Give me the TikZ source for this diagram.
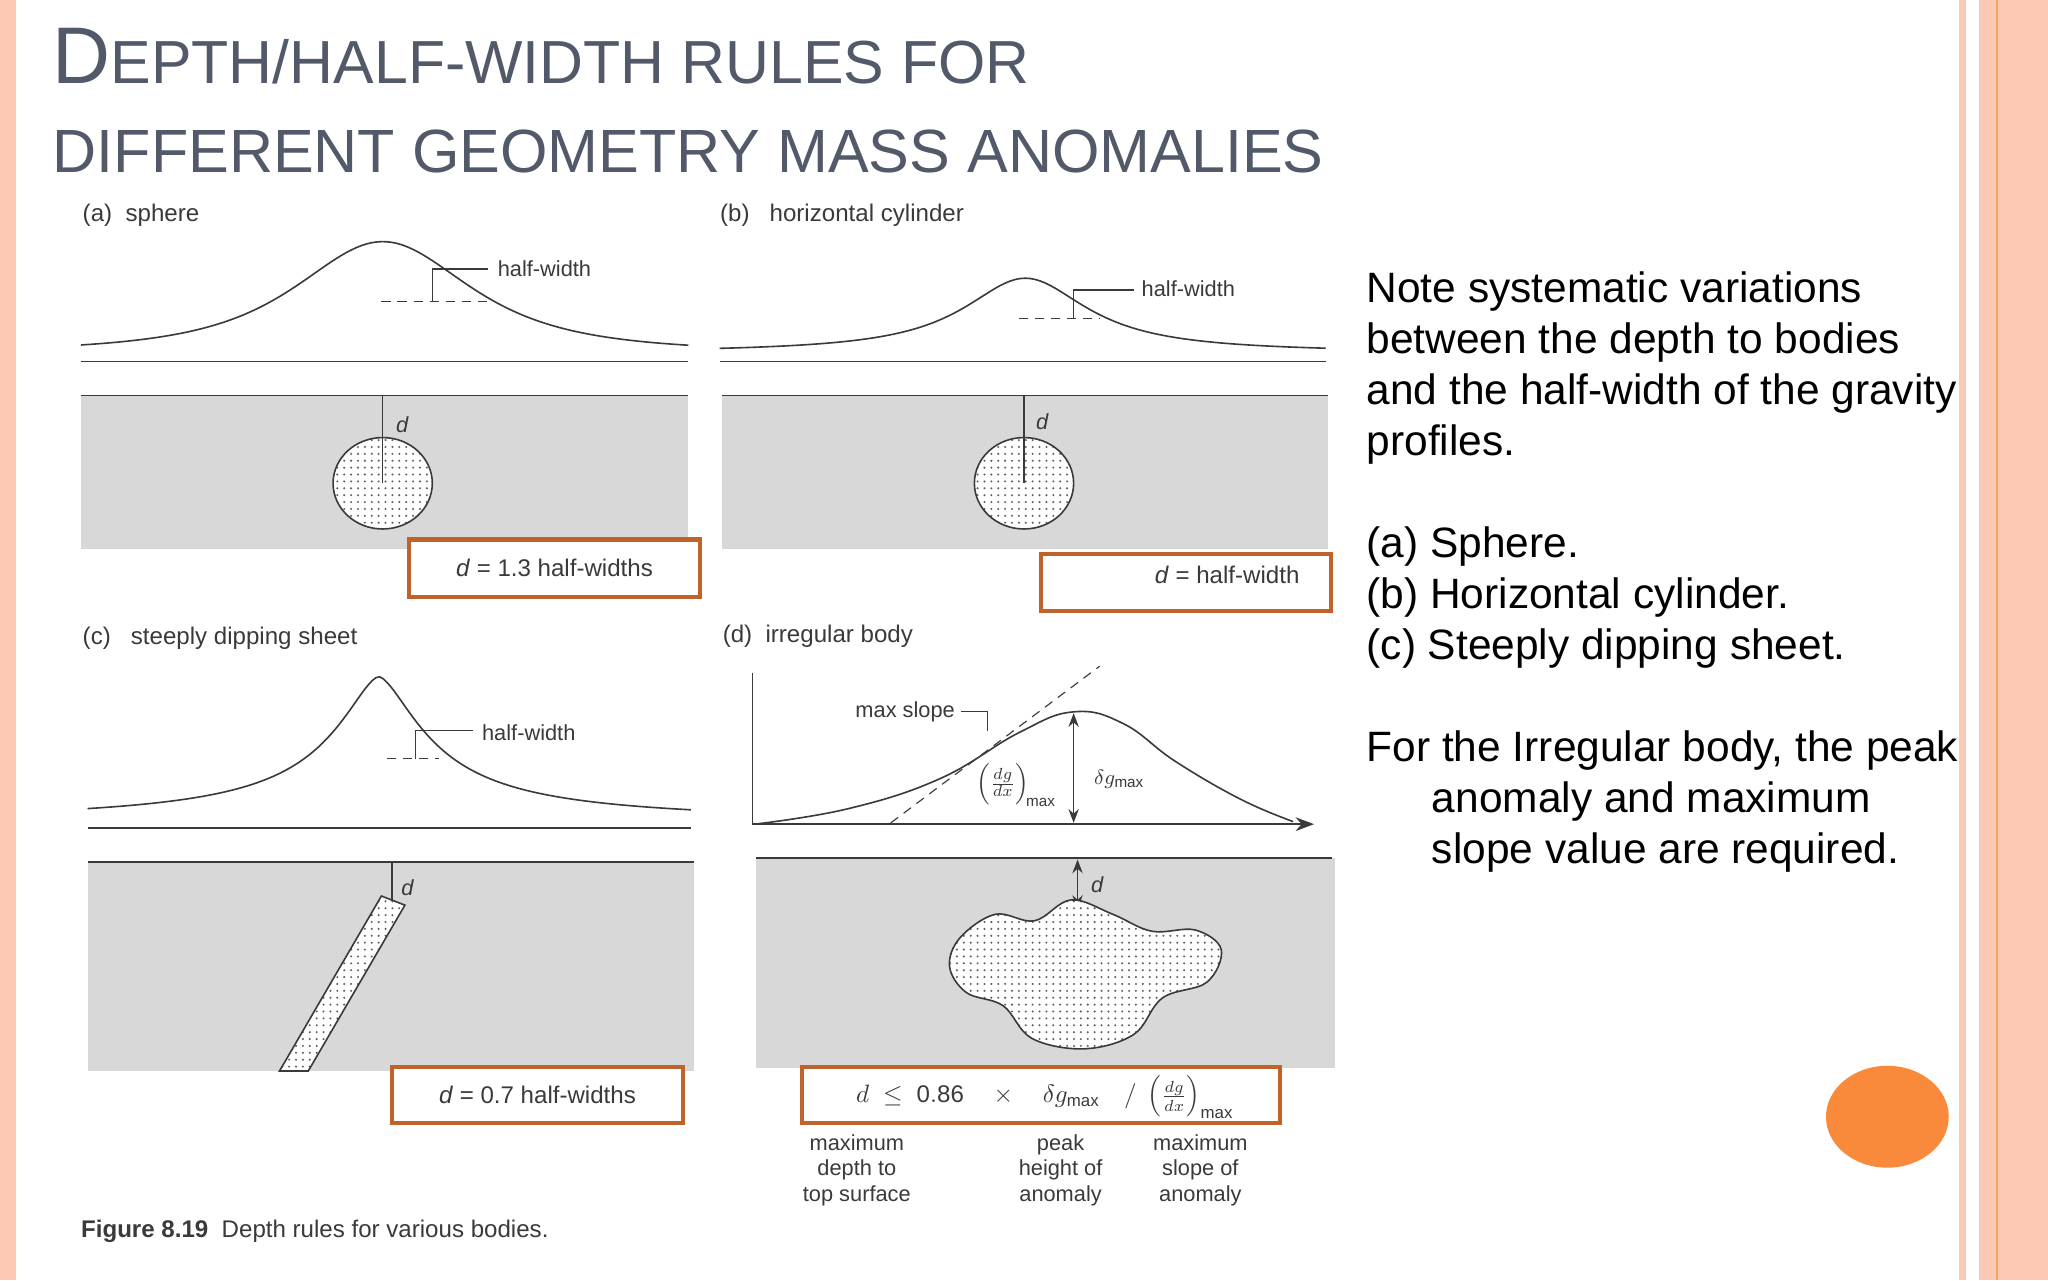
\documentclass[tikz,border=0pt]{standalone}
\usepackage{fontspec}
\setmainfont{Liberation Sans}
\usetikzlibrary{patterns,arrows.meta}
\definecolor{ttl}{HTML}{525A6A}
\definecolor{pnl}{HTML}{D8D8D8}
\definecolor{bx}{HTML}{C0622A}
\definecolor{pk}{HTML}{FCC9B4}
\definecolor{ink}{HTML}{3A3A3A}
\definecolor{orng}{HTML}{F98A3C}
\begin{document}
\begin{tikzpicture}[x=0.02cm,y=-0.02cm,
  lbl/.style={font=\fontsize{9.5}{11}\selectfont,text=ink,inner sep=1pt},
  plbl/.style={font=\fontsize{10.5}{12}\selectfont,text=ink,anchor=west,inner sep=0pt},
  rbox/.style={draw=bx,line width=1.8pt,fill=white},
  prof/.style={draw=ink,line width=0.7pt},
  gline/.style={draw=ink,line width=0.6pt},
  body/.style={draw=ink,line width=0.7pt,pattern=dots,pattern color=ink!80},
  hw/.style={draw=ink,line width=0.5pt},
  hwd/.style={draw=ink,line width=0.5pt,dash pattern=on 4pt off 3pt}]
\useasboundingbox (0,0) rectangle (1568,980);
\fill[white] (0,0) rectangle (1568,980);
% borders
\fill[pk] (0,0) rectangle (12,980);
\fill[pk] (1500,0) rectangle (1505,980);
\fill[pk] (1515,0) rectangle (1568,980);
\draw[orng!80,line width=1.2pt] (1529,0) -- (1529,980);
% title
\node[anchor=base west,text=ttl,inner sep=0pt] (t1) at (40,64) {\fontsize{35}{36}\selectfont D\fontsize{26.5}{28}\selectfont EPTH/HALF-WIDTH RULES FOR};
\node[anchor=base west,text=ttl,inner sep=0pt] (t2) at (40,132) {\fontsize{26.6}{28}\selectfont DIFFERENT GEOMETRY MASS ANOMALIES};
% ---------- (a)
\node[plbl] (la) at (63,165) {(a)\ \ sphere};
\draw[prof] plot[domain=62:527,samples=120] (\x,{270-85*(1+((\x-293)/104)^2)^(-1.5)});
\draw[gline] (62,277) -- (527,277);
\fill[pnl] (62,303) rectangle (527,420);
\draw[gline] (62,303) -- (527,303);
\fill[white] (293,370) ellipse [x radius=0.76cm,y radius=0.7cm];
\path[body] (293,370) ellipse [x radius=0.76cm,y radius=0.7cm];
\draw[gline] (293,303) -- (293,370);
\node[lbl,font=\itshape\fontsize{9.5}{11}\selectfont] (da) at (308,325) {d};
\draw[hwd] (292,231) -- (376,231);
\draw[hw] (331,231) -- (331,206) -- (374,206);
\node[lbl,anchor=west] (hwa) at (379,206) {half-width};
\node[rbox,minimum width=4.46cm,minimum height=0.88cm,font=\fontsize{10.5}{12}\selectfont,text=ink] (ba) at (424.5,435) {\textit{d} = 1.3 half-widths};
% ---------- (b)
\node[plbl] (lb) at (551,165) {(b)\ \ \ horizontal cylinder};
\draw[prof] plot[domain=551:1015,samples=120] (\x,{270-57/(1+((\x-785)/58)^2)});
\draw[gline] (551,277) -- (1015,277);
\fill[pnl] (553,303) rectangle (1017,420);
\draw[gline] (553,303) -- (1017,303);
\fill[white] (784,370) ellipse [x radius=0.76cm,y radius=0.7cm];
\path[body] (784,370) ellipse [x radius=0.76cm,y radius=0.7cm];
\draw[gline] (784,303) -- (784,370);
\node[lbl,font=\itshape\fontsize{9.5}{11}\selectfont] (db) at (798,323) {d};
\draw[hwd] (780,244) -- (842,244);
\draw[hw] (822,244) -- (822,222) -- (868,222);
\node[lbl,anchor=west] (hwb) at (872,221) {half-width};
\node[rbox,minimum width=4.44cm,minimum height=0.88cm,font=\fontsize{10.5}{12}\selectfont,text=ink] (bb) at (908,446) {};
\node[lbl,anchor=east,font=\fontsize{10.5}{12}\selectfont] (bbt) at (997,440) {\textit{d} = half-width};
% ---------- (c)
\node[plbl] (lc) at (63,489) {(c)\ \ \ steeply dipping sheet};
\draw[prof] plot[domain=67:529,samples=160] (\x,{630-112/(1+(abs(\x-290)/42)^1.6)^0.85});
\draw[gline] (67,634) -- (529,634);
\fill[pnl] (67,660) rectangle (531,820);
\draw[gline] (67,660) -- (531,660);
\fill[white] (292,686) -- (310,693) -- (236,820) -- (214,820) -- cycle;
\path[body] (292,686) -- (310,693) -- (236,820) -- (214,820) -- cycle;
\draw[gline] (300,660) -- (300,689);
\node[lbl,font=\itshape\fontsize{9.5}{11}\selectfont] (dc) at (312,680) {d};
\draw[hwd] (296,581) -- (336,581);
\draw[hw] (318,581) -- (318,559) -- (362,559);
\node[lbl,anchor=west] (hwc) at (367,561) {half-width};
\node[rbox,minimum width=4.46cm,minimum height=0.86cm,font=\fontsize{10.5}{12}\selectfont,text=ink] (bc) at (411.5,838.5) {\textit{d} = 0.7 half-widths};
% ---------- (d)
\node[plbl] (ld) at (553,487) {(d)\ \ irregular body};
\draw[gline] (576,515) -- (576,632);
\draw[gline,-{Stealth[length=8pt]}] (576,631) -- (1006,631);
\draw[prof] plot[smooth,tension=0.7] coordinates {(578,631) (650,619) (720,596) (780,561) (822,545) (860,554) (900,583) (950,612) (990,629)};
\draw[hwd] (682,630) -- (842,510);
\node[lbl] (ms) at (693,545) {max slope};
\draw[hw] (736,545) -- (756,545) -- (756,560);
\node[lbl] (dgdx) at (778,601) {$\left(\frac{dg}{dx}\right)_{\!\mathrm{max}}$};
\draw[gline,{Stealth[length=6pt]}-{Stealth[length=6pt]}] (822,546) -- (822,630);
\node[lbl] (dgm) at (857,597) {$\delta g_{\mathrm{max}}$};
\fill[pnl] (579,657) rectangle (1022,818);
\draw[gline] (579,657) -- (1020,657);
\draw[gline,{Stealth[length=6pt]}-{Stealth[length=6pt]}] (825,658) -- (825,696);
\node[lbl,font=\itshape\fontsize{9.5}{11}\selectfont] (dd) at (840,677) {d};
\fill[white] plot[smooth cycle,tension=0.6] coordinates {(735,718) (762,700) (792,705) (820,689) (852,700) (882,713) (915,712) (935,727) (924,752) (890,764) (868,792) (830,803) (790,795) (768,770) (740,760) (727,740)};
\path[body] plot[smooth cycle,tension=0.6] coordinates {(735,718) (762,700) (792,705) (820,689) (852,700) (882,713) (915,712) (935,727) (924,752) (890,764) (868,792) (830,803) (790,795) (768,770) (740,760) (727,740)};
\node[rbox,minimum width=7.32cm,minimum height=0.86cm] (bd) at (797,838.5) {};
\node[lbl,font=\fontsize{10.5}{12}\selectfont] (fd) at (800,840) {$d \;\le\; \mathrm{0.86}\quad\times\quad \delta g_{\mathrm{max}}\quad\big/\;\left(\frac{dg}{dx}\right)_{\mathrm{max}}$};
\node[lbl,align=center,font=\fontsize{9.5}{11}\selectfont] (n1) at (656,896) {maximum\\depth to\\top surface};
\node[lbl,align=center,font=\fontsize{9.5}{11}\selectfont] (n2) at (812,896) {peak\\height of\\anomaly};
\node[lbl,align=center,font=\fontsize{9.5}{11}\selectfont] (n3) at (919,896) {maximum\\slope of\\anomaly};
% caption
\node[anchor=west,lbl,font=\fontsize{10.5}{12}\selectfont] (cap) at (60,943) {\textbf{Figure 8.19}\ \ Depth rules for various bodies.};
% right text
\node[anchor=north west,inner sep=0pt,align=left,font=\fontsize{18.5}{22.2}\selectfont,text=black] (rt) at (1046,208) {Note systematic variations\\between the depth to bodies\\and the half-width of the gravity\\profiles.\\[22.2pt]
(a) Sphere.\\(b) Horizontal cylinder.\\(c) Steeply dipping sheet.\\[22.2pt]
For the Irregular body, the peak\\\hspace*{1.0cm}anomaly and maximum\\\hspace*{1.0cm}slope value are required.};
\fill[orng] (1445,855) ellipse [x radius=0.94cm,y radius=0.78cm];
\end{tikzpicture}
\end{document}
